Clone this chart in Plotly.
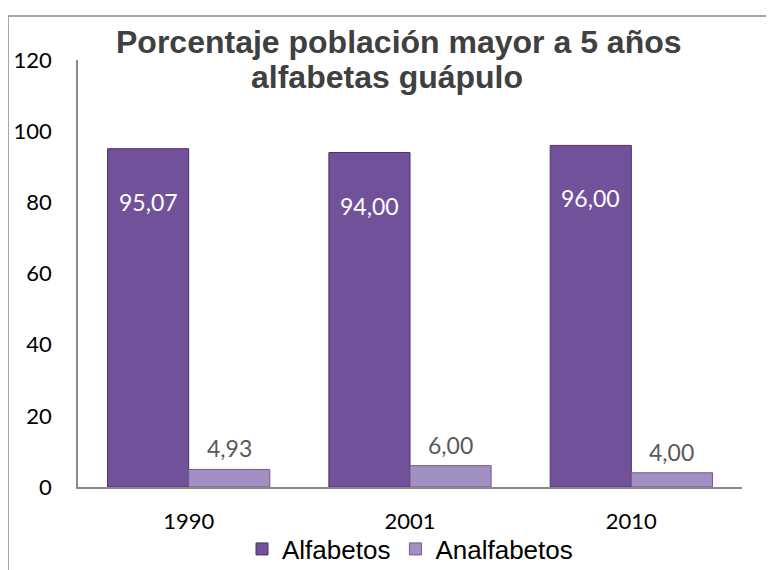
import plotly.graph_objects as go

years = ["1990", "2001", "2010"]
alfabetos = [95.07, 94.00, 96.00]
analfabetos = [4.93, 6.00, 4.00]
series_names = ["Alfabetos", "Analfabetos"]
title_lines = ["Porcentaje población mayor a 5 años", "alfabetas guápulo"]
y_ticks = [0, 20, 40, 60, 80, 100, 120]


def fmt(v):
    return f"{v:.2f}".replace(".", ",")


# page has an 8px body margin; figure is sized/offset to compensate
OFF = 8
W, H = 774 - OFF, 570 - OFF
PL, PT, PR, PB = 78, 60, 742, 487  # plot area in page pixels
L, T = PL - OFF, PT - OFF
R, B = W - (PR - OFF), H - (PB - OFF)
pw, ph = PR - PL, PB - PT


def px_to_paper_x(px):
    return (px - PL) / pw


def px_to_paper_y(py):
    return (PB - py) / ph


fig = go.Figure()
fig.add_trace(go.Bar(
    x=years, y=alfabetos, name=series_names[0],
    marker=dict(color="#71529A", line=dict(color="#4A3268", width=1)),
))
fig.add_trace(go.Bar(
    x=years, y=analfabetos, name=series_names[1],
    marker=dict(color="#A290C2", line=dict(color="#6E5B8E", width=1)),
))

annotations = []
for i, v in enumerate(alfabetos):
    annotations.append(dict(
        x=i, y=v, xref="x", yref="y", text=fmt(v), showarrow=False,
        xshift=-40.5, yshift=-53, yanchor="middle",
        font=dict(family="Lato", size=23, color="#FFFFFF"),
    ))
for i, v in enumerate(analfabetos):
    annotations.append(dict(
        x=i, y=v, xref="x", yref="y", text=fmt(v), showarrow=False,
        xshift=40.5, yshift=21, yanchor="middle",
        font=dict(family="Lato", size=23, color="#595959"),
    ))

annotations.append(dict(
    x=px_to_paper_x(399), y=px_to_paper_y(42), xref="paper", yref="paper",
    text=f"<b>{title_lines[0]}</b>", showarrow=False,
    xanchor="center", yanchor="middle",
    font=dict(family="Liberation Sans", size=32, color="#404040"),
))
annotations.append(dict(
    x=px_to_paper_x(387), y=px_to_paper_y(77), xref="paper", yref="paper",
    text=f"<b>{title_lines[1]}</b>", showarrow=False,
    xanchor="center", yanchor="middle",
    font=dict(family="Liberation Sans", size=32, color="#404040"),
))

fig.update_layout(annotations=annotations)

# outer chart border (left and top visible)
fig.add_shape(type="line", xref="paper", yref="paper",
              x0=px_to_paper_x(8), y0=px_to_paper_y(580),
              x1=px_to_paper_x(8), y1=px_to_paper_y(16),
              line=dict(color="#8A8A8A", width=1.5))
fig.add_shape(type="line", xref="paper", yref="paper",
              x0=px_to_paper_x(8), y0=px_to_paper_y(16),
              x1=px_to_paper_x(790), y1=px_to_paper_y(16),
              line=dict(color="#8A8A8A", width=1.5))

fig.update_layout(
    width=W, height=H, autosize=False,
    margin=dict(l=L, r=R, t=T, b=B, autoexpand=False, pad=0),
    paper_bgcolor="white", plot_bgcolor="white",
    barmode="group", bargap=0.267, bargroupgap=0,
    showlegend=True,
    legend=dict(
        orientation="h", x=0.5, xanchor="center", xref="paper",
        y=1 - (549 - OFF) / H, yanchor="middle", yref="container",
        font=dict(family="Liberation Sans", size=26, color="#000000"),
        bgcolor="rgba(0,0,0,0)",
        itemwidth=30, tracegroupgap=0,
    ),
    xaxis=dict(
        type="category", range=[-0.5, 2.5],
        showline=True, linecolor="#8A8A8A", linewidth=1.5,
        showgrid=False, ticks="", ticklabelstandoff=14,
        tickfont=dict(family="Lato", size=22, color="#000000"),
    ),
    yaxis=dict(
        range=[0, 120], tickvals=y_ticks,
        showline=True, linecolor="#8A8A8A", linewidth=1.5,
        showgrid=False, zeroline=False, ticks="", ticklabelstandoff=20,
        tickfont=dict(family="Lato", size=22, color="#000000"),
    ),
)

fig.write_html("out.html")
